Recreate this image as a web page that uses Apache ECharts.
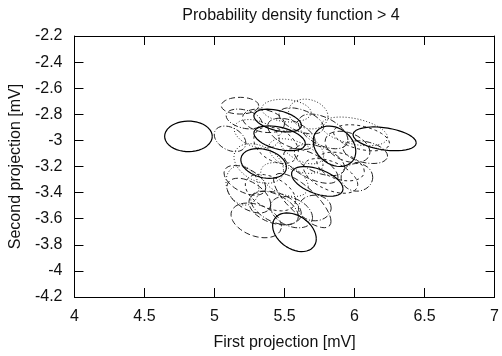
<!DOCTYPE html>
<html>
<head>
<meta charset="utf-8">
<script src="https://cdn.jsdelivr.net/npm/echarts@6/dist/echarts.min.js"></script>
<style>html,body{margin:0;padding:0;background:#fff}#c{width:502px;height:356px}</style>
</head>
<body>
<div id="c"></div>
<script>
// Ellipse contours (level > 4): center x, center y [mV], half-width, half-height [mV], tilt parameter (deg), line style
var centerX    = [4.814, 6.215, 5.571, 5.451, 5.465, 5.857, 5.351, 5.734,
                  5.514, 5.182, 5.210, 5.111, 5.199, 5.217, 5.245, 5.429, 6.077, 5.999, 6.017, 5.627, 5.716, 5.433, 5.298, 5.581, 5.688, 5.776, 5.440, 5.670, 5.829, 5.316,
                  5.550, 5.620, 5.750, 5.900, 5.500, 5.400, 5.620, 5.950, 5.300, 5.550, 6.050, 5.350];
var centerY    = [-2.969, -2.988, -3.704, -2.848, -2.984, -3.045, -3.177, -3.314,
                  -2.772, -2.734, -2.836, -2.988, -3.344, -3.306, -3.423, -3.518, -3.090, -2.931, -3.283, -3.461, -3.518, -3.518, -3.613, -3.120, -3.196, -2.931, -3.037, -2.798, -3.272, -3.177,
                  -2.950, -3.050, -3.150, -3.200, -3.300, -3.400, -2.850, -3.050, -2.950, -3.550, -2.980, -2.850];
var halfWidth  = [0.170, 0.226, 0.156, 0.170, 0.184, 0.152, 0.163, 0.184,
                  0.177, 0.134, 0.127, 0.113, 0.117, 0.149, 0.156, 0.170, 0.159, 0.237, 0.113, 0.205, 0.117, 0.187, 0.180, 0.194, 0.194, 0.177, 0.159, 0.141, 0.194, 0.177,
                  0.170, 0.160, 0.180, 0.170, 0.170, 0.180, 0.160, 0.160, 0.160, 0.150, 0.200, 0.150];
var halfHeight = [0.117, 0.091, 0.148, 0.087, 0.095, 0.155, 0.114, 0.114,
                  0.087, 0.064, 0.076, 0.098, 0.152, 0.114, 0.133, 0.129, 0.087, 0.110, 0.106, 0.208, 0.098, 0.129, 0.133, 0.133, 0.133, 0.133, 0.140, 0.114, 0.133, 0.152,
                  0.120, 0.130, 0.120, 0.110, 0.130, 0.140, 0.100, 0.120, 0.110, 0.120, 0.100, 0.090];
var tilt       = [0, -20, -20, -25, -25, -15, -15, -30,
                  -10, 0, -20, -20, -10, -30, -30, -30, -20, -25, 0, -50, 0, -20, -20, -30, -40, -30, -20, -10, -30, -20,
                  -30, -30, -30, -20, -25, -25, -30, -20, -20, -20, -25, -15];
var styleKind  = ['solid','solid','solid','solid','solid','solid','solid','solid',
                  'dotted','dashed','dashdot','dashdot','dotted','dashed','dashed','dashdot','dashdot','dotted','dashdot','dashed','dashdot','dashed','dashed','dotted','dashed','dashdot','short','dotted','short','dotted',
                  'dashed','dotted','dashdot','short','dotted','short','dashdot','dashed','dotted','dashdot','short','dashed'];

var xTicks = [4, 4.5, 5, 5.5, 6, 6.5, 7];
var yTicks = [-4.2, -4, -3.8, -3.6, -3.4, -3.2, -3, -2.8, -2.6, -2.4, -2.2];

var dashMap = {
  solid: 'solid',
  dashed: [6, 3],
  short: [3, 3],
  dotted: [1, 2],
  dashdot: [6, 2, 1, 2]
};

function ellipse(i) {
  var pts = [], n = 90, ph = tilt[i] * Math.PI / 180;
  for (var k = 0; k <= n; k++) {
    var t = 2 * Math.PI * k / n;
    pts.push([centerX[i] + halfWidth[i] * Math.cos(t),
              centerY[i] + halfHeight[i] * Math.sin(t + ph)]);
  }
  return pts;
}

var series = [];
for (var i = 0; i < centerX.length; i++) {
  series.push({
    type: 'line',
    data: ellipse(i),
    showSymbol: false,
    symbol: 'none',
    silent: true,
    animation: false,
    z: styleKind[i] === 'solid' ? 3 : 2,
    lineStyle: { color: styleKind[i] === 'solid' ? '#000' : '#222', width: styleKind[i] === 'solid' ? 1.2 : 1, type: dashMap[styleKind[i]] }
  });
}

var font = 'Liberation Sans, Arial, sans-serif';
var chart = echarts.init(document.getElementById('c'), null, { renderer: 'canvas' });
var axisCommon = {
  axisLine: { show: true, onZero: false, lineStyle: { color: '#000', width: 1 } },
  axisTick: { show: true, inside: true, length: 9, lineStyle: { color: '#000' } },
  splitLine: { show: false }
};
chart.setOption({
  animation: false,
  backgroundColor: '#fff',
  title: {
    text: 'Probability density function > 4',
    left: 286, top: 3, textAlign: 'center',
    textStyle: { fontFamily: font, fontSize: 16, fontWeight: 'normal', color: '#111' }
  },
  grid: { left: 74, right: 4, top: 36, bottom: 56 },
  xAxis: [
    Object.assign({
      type: 'value', min: xTicks[0], max: xTicks[xTicks.length - 1], interval: 0.5, position: 'bottom',
      name: 'First projection [mV]', nameLocation: 'middle', nameGap: 38,
      nameTextStyle: { fontFamily: font, fontSize: 16, color: '#111' },
      axisLabel: { fontFamily: font, fontSize: 16, color: '#111', margin: 12, showMaxLabel: true, showMinLabel: true }
    }, axisCommon),
    Object.assign({
      type: 'value', min: xTicks[0], max: xTicks[xTicks.length - 1], interval: 0.5, position: 'top',
      axisLabel: { show: false }
    }, axisCommon)
  ],
  yAxis: [
    Object.assign({
      type: 'value', min: yTicks[0], max: yTicks[yTicks.length - 1], interval: 0.2, position: 'left',
      name: 'Second projection [mV]', nameLocation: 'middle', nameGap: 46, nameRotate: 90,
      nameTextStyle: { fontFamily: font, fontSize: 16, color: '#111' },
      axisLabel: { fontFamily: font, fontSize: 16, color: '#111', margin: 12,
        formatter: function (v) { return String(parseFloat(v.toFixed(1))); } }
    }, axisCommon),
    Object.assign({
      type: 'value', min: yTicks[0], max: yTicks[yTicks.length - 1], interval: 0.2, position: 'right',
      axisLabel: { show: false }
    }, axisCommon)
  ],
  series: series
});
</script>
</body>
</html>
